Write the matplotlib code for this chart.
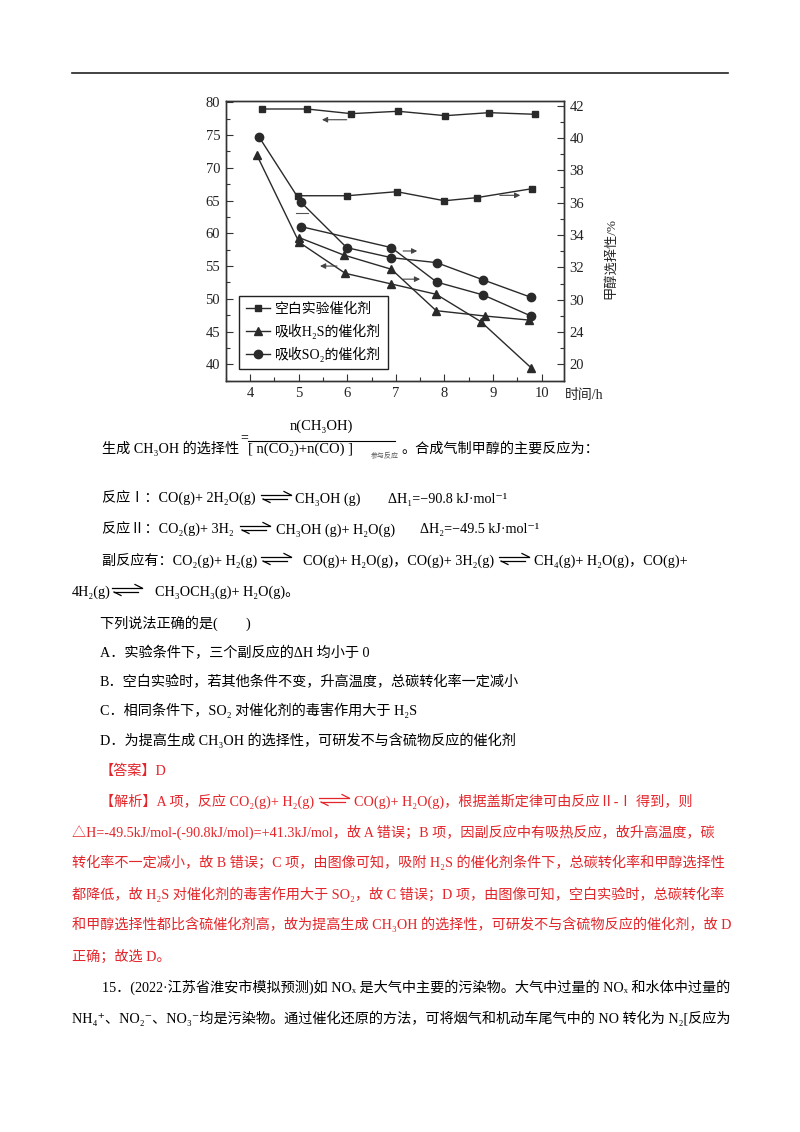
import matplotlib
matplotlib.use('Agg')
import matplotlib.pyplot as plt
from matplotlib.lines import Line2D
from matplotlib.ticker import MultipleLocator, FixedLocator

W, H = 800, 1132
FAM = ['Liberation Serif', 'Noto Sans CJK SC', 'DejaVu Sans']
plt.rcParams['font.family'] = FAM

# ---------------- data ----------------
# left axis: total carbon conversion / %
blank_conv_t = [4.24, 5.17, 6.08, 7.05, 8.02, 8.92, 9.87]
blank_conv = [78.98, 78.98, 78.27, 78.63, 77.96, 78.42, 78.17]
h2s_conv_t = [4.14, 5.01, 5.96, 6.91, 7.83, 8.75, 9.78]
h2s_conv = [71.96, 58.63, 53.89, 52.26, 50.69, 46.51, 39.49]
so2_conv_t = [4.19, 5.05, 5.99, 6.91, 7.84, 8.80, 9.78]
so2_conv = [74.66, 64.73, 57.81, 56.28, 55.52, 52.88, 50.23]
# right axis: methanol selectivity (axis position units; tick 28 is labelled 24, tick 26 is labelled 20)
blank_sel_t = [4.99, 6.00, 7.02, 8.00, 8.66, 9.81]
blank_sel = [36.43, 36.43, 36.68, 36.12, 36.31, 36.87]
h2s_sel_t = [5.01, 5.93, 6.91, 7.83, 8.83, 9.74]
h2s_sel = [33.84, 32.76, 31.88, 29.32, 28.99, 28.74]
so2_sel_t = [5.05, 6.91, 7.84, 8.80, 9.78]
so2_sel = [34.52, 33.22, 31.09, 30.29, 28.99]

x_ticks = [4, 5, 6, 7, 8, 9, 10]
left_ticks = [40, 45, 50, 55, 60, 65, 70, 75, 80]
right_tick_pos = [26, 28, 30, 32, 34, 36, 38, 40, 42]
right_tick_labels = ['20', '24', '30', '32', '34', '36', '38', '40', '42']
legend_labels = ['空白实验催化剂', '吸收H₂S的催化剂', '吸收SO₂的催化剂']

# ---------------- figure ----------------
fig = plt.figure(figsize=(8, 11.32), dpi=100)
fig.patch.set_facecolor('white')


def fxy(x, y):
    return x / W, 1 - y / H


LC = '#2a2a2a'
ax = fig.add_axes([225.7 / W, 1 - 381 / H, (564 - 225.7) / W, (381 - 101) / H])
ax2 = ax.twinx()

l1, = ax.plot(blank_conv_t, blank_conv, color=LC, lw=1.0, marker='s', ms=5)
l2, = ax.plot(h2s_conv_t, h2s_conv, color=LC, lw=1.0, marker='^', ms=6)
l3, = ax.plot(so2_conv_t, so2_conv, color=LC, lw=1.0, marker='o', ms=6)
ax2.plot(blank_sel_t, blank_sel, color=LC, lw=1.0, marker='s', ms=5)
ax2.plot(h2s_sel_t, h2s_sel, color=LC, lw=1.0, marker='^', ms=6)
ax2.plot(so2_sel_t, so2_sel, color=LC, lw=1.0, marker='o', ms=6)

ax.set_xlim(3.5, 10.46)
ax.set_ylim(37.45, 80.2)
ax2.set_ylim(24.97, 42.29)
ax.set_xticks(x_ticks)
ax.set_yticks(left_ticks)
ax.xaxis.set_minor_locator(MultipleLocator(0.5))
ax.yaxis.set_minor_locator(MultipleLocator(2.5))
ax2.yaxis.set_major_locator(FixedLocator(right_tick_pos))
ax2.set_yticklabels(right_tick_labels)
ax2.yaxis.set_minor_locator(MultipleLocator(1))

for a in (ax, ax2):
    for sp in a.spines.values():
        sp.set_color('#333333')
        sp.set_linewidth(1.0)
    a.tick_params(which='both', direction='in', colors='#333333', labelcolor='#222222',
                  labelsize=10.5, width=0.8)
    a.tick_params(which='major', length=5, pad=4)
    a.tick_params(which='minor', length=3)
ax.tick_params(axis='y', which='both', right=False)
ax2.tick_params(axis='y', which='both', left=False)

for lab in ax.get_xticklabels() + ax.get_yticklabels() + ax2.get_yticklabels():
    lab.set_family('Liberation Serif')

# arrows inside the plot
ap = dict(arrowstyle='-|>', color='#444444', lw=0.8, mutation_scale=8, shrinkA=0, shrinkB=0)
ax.annotate('', xy=(5.48, 77.34), xytext=(5.99, 77.34), arrowprops=ap)
ax.annotate('', xy=(9.56, 65.8), xytext=(9.14, 65.8), arrowprops=ap)
ax.annotate('', xy=(7.44, 57.3), xytext=(7.15, 57.3), arrowprops=ap)
ax.annotate('', xy=(5.44, 55.0), xytext=(5.79, 55.0), arrowprops=ap)
ax.annotate('', xy=(7.50, 53.0), xytext=(7.15, 53.0), arrowprops=ap)
ax.plot([4.95, 5.19], [63.1, 63.1], color='#555555', lw=0.8)

leg = ax.legend([l1, l2, l3], legend_labels, loc='lower left', bbox_to_anchor=(0.04, 0.043),
                fontsize=10, handlelength=1.75, handletextpad=0.3, labelspacing=0.55,
                borderpad=0.5, fancybox=False, framealpha=1, edgecolor='#222222',
                borderaxespad=0)
leg.get_frame().set_linewidth(1.0)

fig.text(*fxy(584, 396), '时间/h', fontsize=10, ha='center', va='center', color='#222222')
fig.text(*fxy(611, 258), '甲醇选择性/%', fontsize=9.5, ha='center', va='center',
         rotation=90, color='#222222')

# ---------------- page text ----------------
RED = '#e3262b'
FS = 10.2


def T(x, y, s, color='black', size=FS, ha='left', **kw):
    fig.text(x / W, 1 - (y + 5.5) / H, s, color=color, fontsize=size, ha=ha, va='baseline', **kw)


def hline(x0, x1, y, lw=1.0, color='black'):
    fig.add_artist(Line2D([x0 / W, x1 / W], [1 - y / H, 1 - y / H], lw=lw, color=color,
                          transform=fig.transFigure))


def seg(pts, color='black', lw=0.9):
    xs = [p[0] / W for p in pts]
    ys = [1 - p[1] / H for p in pts]
    fig.add_artist(Line2D(xs, ys, lw=lw, color=color, transform=fig.transFigure))


def eq(x0, x1, y, color='black'):
    yt, yb = y - 2, y + 2
    seg([(x0, yt), (x1, yt)], color)
    seg([(x1, yt), (x1 - 7, yt - 3.5)], color)
    seg([(x0 + 2, yb), (x1 - 4, yb)], color)
    seg([(x0 + 2, yb), (x0 + 9, yb + 3.5)], color)


# top rule
hline(72, 728, 72.7, lw=1.2, color='#222222')

# selectivity definition
T(102, 447, '生成 CH₃OH 的选择性')
T(240, 436, '=', size=10)
T(321, 424, 'n(CH₃OH)', ha='center', size=10.5)
hline(248, 395, 441, lw=0.8)
T(248, 447, '[ n(CO₂)+n(CO) ]', size=10.5)
T(371, 452, '参与反应', size=5, color='#555555')
T(401, 447, '。合成气制甲醇的主要反应为：')

# reactions
T(102, 497, '反应Ⅰ：CO(g)+ 2H₂O(g)')
eq(261, 291, 497)
T(295, 497, 'CH₃OH (g)')
T(388, 497, 'ΔH₁=−90.8 kJ·mol⁻¹')

T(102, 528, '反应Ⅱ：CO₂(g)+ 3H₂')
eq(240, 270, 528)
T(276, 528, 'CH₃OH (g)+ H₂O(g)')
T(420, 528, 'ΔH₂=−49.5 kJ·mol⁻¹')

T(102, 559, '副反应有：CO₂(g)+ H₂(g)')
eq(261, 291, 559)
T(303, 559, 'CO(g)+ H₂O(g)，CO(g)+ 3H₂(g)')
eq(499, 529, 559)
T(534, 559, 'CH₄(g)+ H₂O(g)，CO(g)+')

T(72, 590, '4H₂(g)')
eq(112, 142, 590)
T(155, 590, 'CH₃OCH₃(g)+ H₂O(g)。')

# question
T(100, 622, '下列说法正确的是(　　)')
T(100, 652, 'A．实验条件下，三个副反应的ΔH 均小于 0')
T(100, 681, 'B．空白实验时，若其他条件不变，升高温度，总碳转化率一定减小')
T(100, 710, 'C．相同条件下，SO₂ 对催化剂的毒害作用大于 H₂S')
T(100, 740, 'D．为提高生成 CH₃OH 的选择性，可研发不与含硫物反应的催化剂')

# answer
T(100, 769, '【答案】D', color=RED)
T(100, 800, '【解析】A 项，反应 CO₂(g)+ H₂(g)', color=RED)
eq(319, 349, 800, color=RED)
T(354, 800, 'CO(g)+ H₂O(g)，根据盖斯定律可由反应Ⅱ-Ⅰ 得到，则', color=RED)
T(72, 831, '△H=-49.5kJ/mol-(-90.8kJ/mol)=+41.3kJ/mol，故 A 错误；B 项，因副反应中有吸热反应，故升高温度，碳',
  color=RED)
T(72, 862, '转化率不一定减小，故 B 错误；C 项，由图像可知，吸附 H₂S 的催化剂条件下，总碳转化率和甲醇选择性',
  color=RED)
T(72, 893, '都降低，故 H₂S 对催化剂的毒害作用大于 SO₂，故 C 错误；D 项，由图像可知，空白实验时，总碳转化率',
  color=RED)
T(72, 924, '和甲醇选择性都比含硫催化剂高，故为提高生成 CH₃OH 的选择性，可研发不与含硫物反应的催化剂，故 D',
  color=RED)
T(72, 955, '正确；故选 D。', color=RED)

# next question
T(102, 986, '15．(2022·江苏省淮安市模拟预测)如 NOₓ 是大气中主要的污染物。大气中过量的 NOₓ 和水体中过量的')
T(72, 1017, 'NH₄⁺、NO₂⁻、NO₃⁻均是污染物。通过催化还原的方法，可将烟气和机动车尾气中的 NO 转化为 N₂[反应为')

fig.savefig('out.png', dpi=100, facecolor='white')
